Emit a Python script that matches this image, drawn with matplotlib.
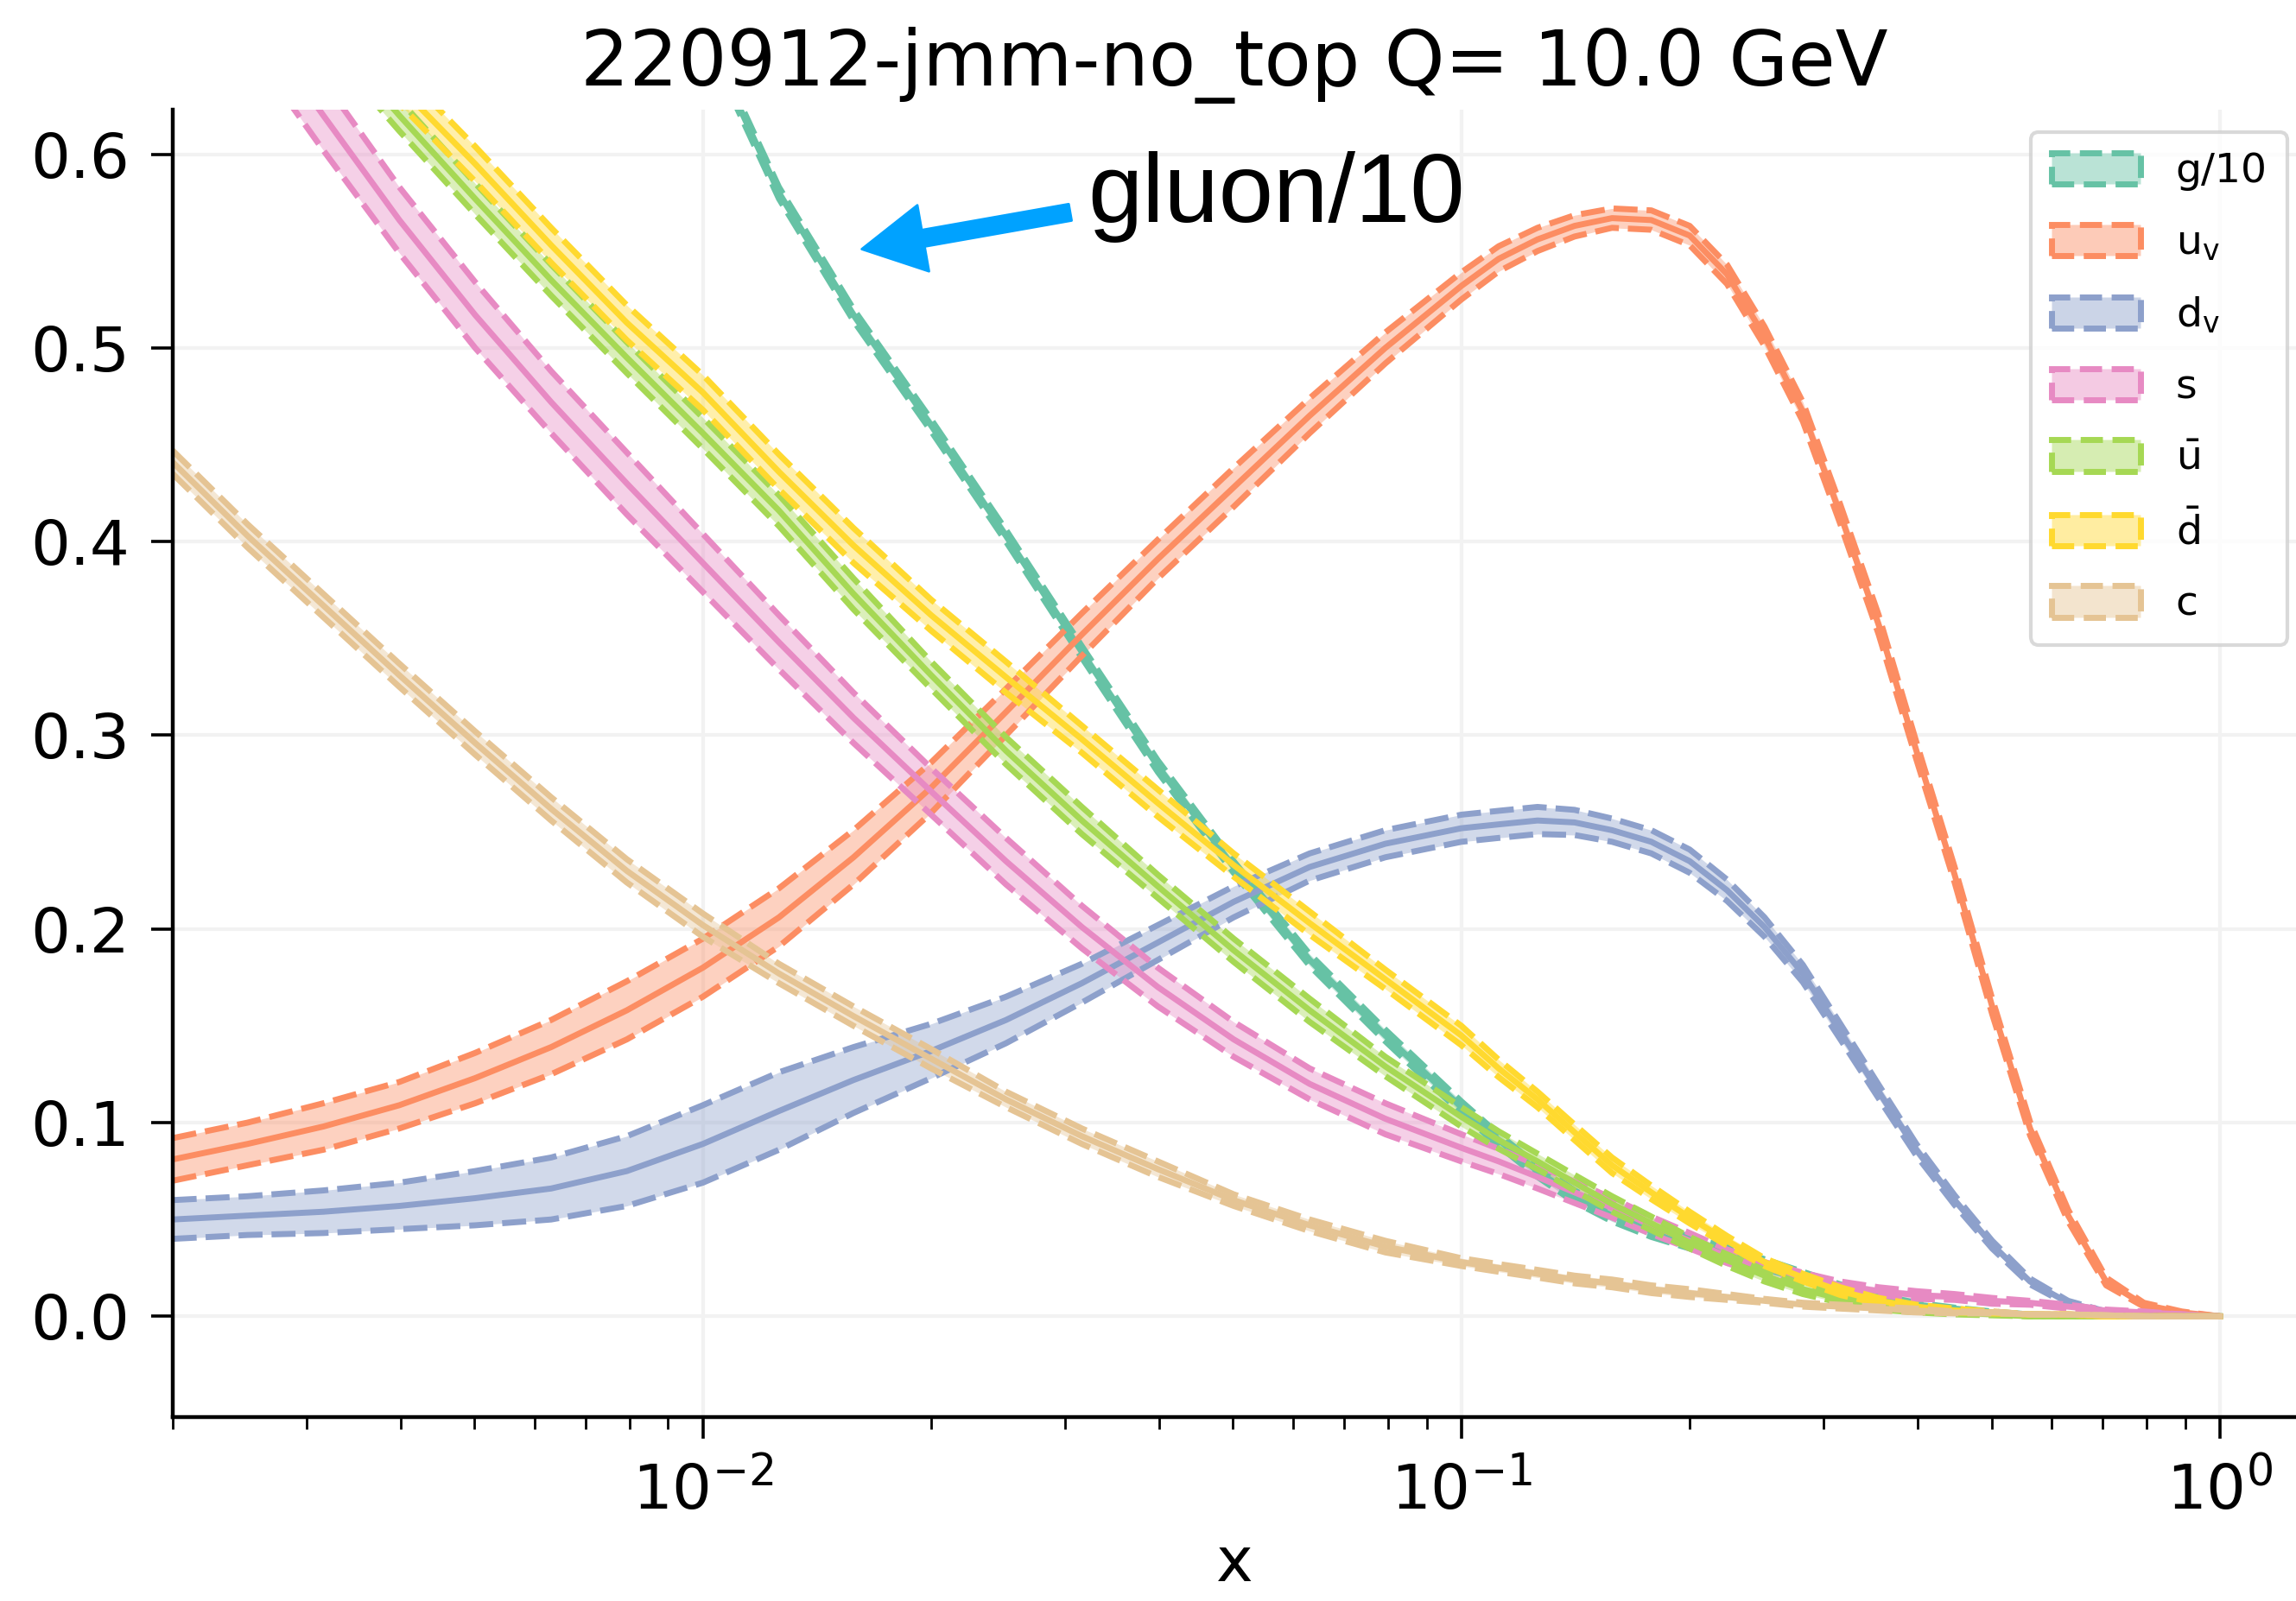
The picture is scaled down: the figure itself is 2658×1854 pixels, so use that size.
import numpy as np
import matplotlib.pyplot as plt
from matplotlib.patches import Patch
from matplotlib.colors import to_rgba

nan = np.nan

# x points: 0.1-decade steps below 0.1, 0.05-decade steps above
x = [0.002, 0.00251, 0.00316, 0.00398, 0.00501, 0.00631, 0.00794,
     0.01, 0.0126, 0.0158, 0.02, 0.0251, 0.0316, 0.0398, 0.0501, 0.0631, 0.0794,
     0.1, 0.112, 0.126, 0.141, 0.158, 0.178, 0.2, 0.224, 0.251, 0.282,
     0.316, 0.355, 0.398, 0.447, 0.501, 0.562, 0.631, 0.708, 0.794, 0.891, 1.0]

# central values (nan = above the visible range)
g10 = [nan, nan, nan, nan, nan, nan, nan,
       0.665, 0.580, 0.517, 0.460, 0.403, 0.343, 0.284, 0.232, 0.184, 0.145,
       0.108, 0.091, 0.075, 0.062, 0.052, 0.044, 0.038, 0.033, 0.027, 0.021,
       0.015, 0.010, 0.006, 0.004, 0.002, 0.001, 0.0005, 0.0, 0.0, 0.0, 0.0]
uv = [0.081, 0.089, 0.098, 0.109, 0.123, 0.139, 0.158,
      0.180, 0.206, 0.237, 0.273, 0.312, 0.352, 0.391, 0.428, 0.465, 0.500,
      0.532, 0.546, 0.556, 0.563, 0.567, 0.566, 0.558, 0.538, 0.506, 0.467,
      0.414, 0.357, 0.292, 0.228, 0.160, 0.097, 0.052, 0.018, 0.006, 0.002, 0.0]
dv = [0.050, 0.052, 0.054, 0.057, 0.061, 0.066, 0.075,
      0.089, 0.106, 0.122, 0.137, 0.153, 0.172, 0.193, 0.214, 0.232, 0.244,
      0.252, 0.254, 0.256, 0.255, 0.251, 0.245, 0.235, 0.220, 0.201, 0.177,
      0.147, 0.116, 0.086, 0.060, 0.037, 0.018, 0.007, 0.002, 0.001, 0.0, 0.0]
s = [nan, 0.675, 0.620, 0.566, 0.517, 0.472, 0.430,
     0.389, 0.348, 0.309, 0.271, 0.235, 0.201, 0.170, 0.143, 0.120, 0.102,
     0.087, 0.080, 0.072, 0.064, 0.056, 0.047, 0.039, 0.031, 0.025, 0.020,
     0.016, 0.013, 0.011, 0.010, 0.008, 0.007, 0.005, 0.003, 0.002, 0.001, 0.0]
ubar = [nan, nan, 0.665, 0.620, 0.577, 0.535, 0.495,
        0.456, 0.416, 0.373, 0.331, 0.292, 0.256, 0.222, 0.189, 0.158, 0.129,
        0.103, 0.091, 0.080, 0.069, 0.058, 0.048, 0.038, 0.029, 0.021, 0.014,
        0.009, 0.005, 0.003, 0.002, 0.001, 0.0, 0.0, 0.0, 0.0, 0.0, 0.0]
dbar = [nan, nan, 0.680, 0.635, 0.595, 0.553, 0.513,
        0.477, 0.436, 0.398, 0.362, 0.330, 0.298, 0.265, 0.233, 0.203, 0.174,
        0.145, 0.128, 0.112, 0.095, 0.078, 0.064, 0.051, 0.039, 0.028, 0.020,
        0.013, 0.008, 0.005, 0.003, 0.002, 0.001, 0.001, 0.0, 0.0, 0.0, 0.0]
c = [0.441, 0.403, 0.367, 0.331, 0.296, 0.262, 0.230,
     0.202, 0.177, 0.155, 0.133, 0.112, 0.093, 0.076, 0.060, 0.047, 0.036,
     0.028, 0.025, 0.022, 0.019, 0.017, 0.014, 0.012, 0.010, 0.008, 0.006,
     0.005, 0.004, 0.003, 0.002, 0.002, 0.001, 0.001, 0.0005, 0.0, 0.0, 0.0]

# half widths of the uncertainty bands
g10_err = [0.003] * 25 + [0.0025, 0.002, 0.0015, 0.001, 0.001, 0.0005, 0.0005,
                          0.0, 0.0, 0.0, 0.0, 0.0, 0.0]
uv_err = [0.011, 0.011, 0.012, 0.012, 0.013, 0.014, 0.015,
          0.015, 0.015, 0.014, 0.013, 0.012, 0.011, 0.010, 0.010, 0.009, 0.008,
          0.007, 0.0065, 0.006, 0.0055, 0.005, 0.005, 0.005, 0.005, 0.005, 0.005,
          0.005, 0.005, 0.0045, 0.004, 0.004, 0.0035, 0.003, 0.002, 0.001, 0.0005, 0.0]
dv_err = [0.010, 0.010, 0.011, 0.012, 0.014, 0.016, 0.018,
          0.020, 0.020, 0.017, 0.014, 0.012, 0.010, 0.009, 0.008, 0.007, 0.007,
          0.007, 0.007, 0.007, 0.0065, 0.006, 0.006, 0.006, 0.0055, 0.005, 0.0045,
          0.004, 0.0035, 0.003, 0.0025, 0.002, 0.0015, 0.001, 0.0005, 0.0, 0.0, 0.0]
s_err = [0.018, 0.018, 0.018, 0.017, 0.017, 0.016, 0.016,
         0.015, 0.014, 0.013, 0.012, 0.012, 0.011, 0.010, 0.009, 0.008, 0.008,
         0.007, 0.0065, 0.006, 0.0055, 0.005, 0.0045, 0.004, 0.0035, 0.003, 0.0025,
         0.002, 0.002, 0.002, 0.0015, 0.0015, 0.001, 0.001, 0.0005, 0.0005, 0.0, 0.0]
ubar_err = [0.008, 0.008, 0.008, 0.008, 0.008, 0.008, 0.008,
            0.008, 0.008, 0.008, 0.007, 0.007, 0.007, 0.006, 0.006, 0.006, 0.005,
            0.005, 0.0045, 0.004, 0.004, 0.004, 0.0035, 0.003, 0.003, 0.003, 0.0025,
            0.002, 0.0015, 0.001, 0.001, 0.0005, 0.0, 0.0, 0.0, 0.0, 0.0, 0.0]
dbar_err = [0.009, 0.009, 0.009, 0.009, 0.009, 0.009, 0.009,
            0.009, 0.009, 0.009, 0.008, 0.008, 0.007, 0.007, 0.006, 0.006, 0.005,
            0.005, 0.0045, 0.004, 0.004, 0.004, 0.0035, 0.003, 0.0025, 0.002, 0.002,
            0.002, 0.0015, 0.001, 0.001, 0.0005, 0.0, 0.0, 0.0, 0.0, 0.0, 0.0]
c_err = [0.006, 0.006, 0.006, 0.006, 0.006, 0.006, 0.006,
         0.006, 0.005, 0.005, 0.005, 0.004, 0.004, 0.004, 0.003, 0.003, 0.003,
         0.002, 0.002, 0.002, 0.002, 0.002, 0.002, 0.002, 0.0015, 0.001, 0.001,
         0.001, 0.001, 0.001, 0.0005, 0.0005, 0.0, 0.0, 0.0, 0.0, 0.0, 0.0]

labels = ['g/10', r'$\mathrm{u_v}$', r'$\mathrm{d_v}$', 's',
          r'$\bar{\mathrm{u}}$', r'$\bar{\mathrm{d}}$', 'c']
colors = ['#66c2a5', '#fc8d62', '#8da0cb', '#e78ac3', '#a6d854', '#ffd92f', '#e5c494']
series = [g10, uv, dv, s, ubar, dbar, c]
errors = [g10_err, uv_err, dv_err, s_err, ubar_err, dbar_err, c_err]

fig = plt.figure(figsize=(13.29, 9.27), dpi=200)
ax = fig.add_axes([0.0752, 0.1149, 0.9248, 0.8166])

ax.grid(True, which='major', color='#f2f2f2', lw=1.5, zorder=0)
ax.set_axisbelow(True)

handles = []
for y, e, col, lab in zip(series, errors, colors, labels):
    y = np.array(y)
    e = np.array(e)
    ax.fill_between(x, y - e, y + e, color=col, alpha=0.4, lw=0)
    ax.plot(x, y + e, color=col, lw=2.5, ls=(0, (4, 1.5)))
    ax.plot(x, y - e, color=col, lw=2.5, ls=(0, (4, 1.5)))
    ax.plot(x, y, color=col, lw=2.5)
    handles.append(Patch(facecolor=to_rgba(col, 0.45), edgecolor=col,
                         linestyle='--', linewidth=2.5, label=lab))

ax.set_xscale('log')
ax.set_xlim(0.002, 1.26)
ax.set_ylim(-0.052, 0.623)
ax.set_yticks([0.0, 0.1, 0.2, 0.3, 0.4, 0.5, 0.6])
ax.set_yticklabels(['0.0', '0.1', '0.2', '0.3', '0.4', '0.5', '0.6'])

for side in ['top', 'right']:
    ax.spines[side].set_visible(False)
for side in ['left', 'bottom']:
    ax.spines[side].set_linewidth(1.6)

ax.tick_params(axis='both', which='major', labelsize=26, length=9, width=1.3, pad=9)
ax.tick_params(axis='x', which='minor', length=5, width=1.0)

ax.set_xlabel('x', fontsize=26, labelpad=5)
ax.set_title('220912-jmm-no_top Q= 10.0 GeV', fontsize=32, pad=10)

leg = ax.legend(handles=handles, loc='upper right', bbox_to_anchor=(0.996, 0.983),
                borderaxespad=0, fontsize=17, handlelength=2.2, handleheight=0.8,
                handletextpad=0.85, labelspacing=0.8, borderpad=0.5,
                frameon=True, fancybox=True)
leg.get_frame().set_edgecolor('#d0d0d0')
leg.get_frame().set_linewidth(1.5)

# annotation: text and arrow drawn separately
ax.text(0.0322, 0.565, 'gluon/10', fontsize=41,
        family=['Liberation Sans', 'DejaVu Sans'], ha='left', va='baseline')
ax.annotate('', xy=(0.0162, 0.551), xytext=(0.0305, 0.570),
            arrowprops=dict(color='#00a2ff', width=7, headwidth=28,
                            headlength=26, shrink=0.0))

fig.savefig('out.png', dpi=200)
